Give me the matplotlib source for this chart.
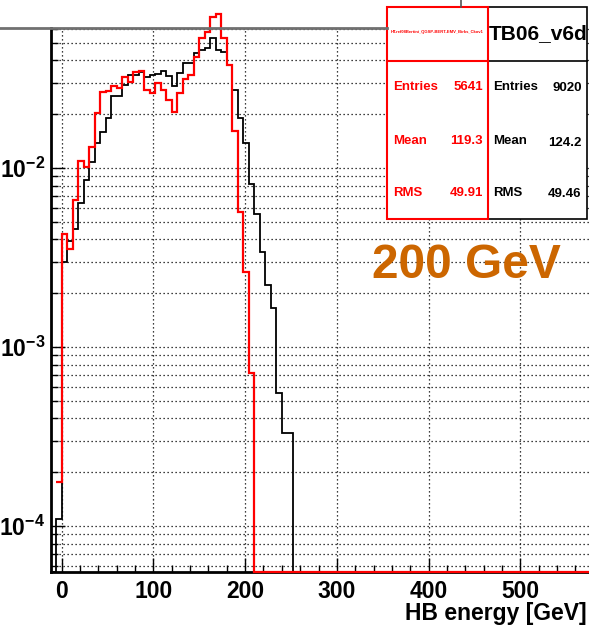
import numpy as np
import matplotlib
matplotlib.use('Agg')
import matplotlib.pyplot as plt
from matplotlib.ticker import FixedLocator, NullFormatter, LogLocator, MultipleLocator
from matplotlib.lines import Line2D
from matplotlib.patches import Rectangle

plt.rcParams['font.family'] = ['Liberation Sans', 'DejaVu Sans']
plt.rcParams['font.weight'] = 'bold'
plt.rcParams['mathtext.fontset'] = 'custom'
plt.rcParams['mathtext.rm'] = 'Liberation Sans:bold'
plt.rcParams['mathtext.bf'] = 'Liberation Sans:bold'
plt.rcParams['mathtext.it'] = 'Liberation Sans:bold:italic'

# ---------------- data ----------------
BIN_WIDTH = 6
FIRST_EDGE = -6          # lower edge of the first listed bin (both series)
BLACK_RANGE = (-12, 600)
RED_RANGE = (-6, 600)

# TB06_v6d (black), normalised to entries
black_values = [1.1e-4, 3.0e-3, 3.93e-3, 4.58e-3, 6.40e-3, 8.60e-3, 0.0109, 0.0138,
                0.0160, 0.0190, 0.0254, 0.0254, 0.0292, 0.0332, 0.0332, 0.0347,
                0.0325, 0.0330, 0.0336, 0.0351, 0.0329, 0.0288, 0.0339, 0.0386,
                0.0389, 0.0439, 0.0458, 0.0468, 0.0532, 0.0458, 0.0446, 0.0378,
                0.0274, 0.0191, 0.0138, 8.17e-3, 5.55e-3, 3.42e-3, 2.22e-3,
                1.665e-3, 5.58e-4, 3.33e-4, 3.33e-4]

# simulation (red)
red_values = [1.77e-4, 4.28e-3, 3.56e-3, 6.65e-3, 0.0110, 0.0101, 0.0131, 0.0203,
              0.0266, 0.0270, 0.0288, 0.0282, 0.0325, 0.0305, 0.0344, 0.0351,
              0.0274, 0.0263, 0.0299, 0.0273, 0.0241, 0.0207, 0.0263, 0.0315,
              0.0331, 0.0418, 0.0532, 0.0578, 0.0698, 0.0725, 0.0532, 0.0378,
              0.0162, 5.72e-3, 2.64e-3, 7.16e-4]

x_ticks = [0, 100, 200, 300, 400, 500]
y_ticks = [1e-4, 1e-3, 1e-2]
y_tick_labels = [r'$\mathbf{10^{-4}}$', r'$\mathbf{10^{-3}}$', r'$\mathbf{10^{-2}}$']
X_LIM = (-12, 600)
Y_LIM = (5.55e-5, 0.0605)

red_stats = [("Entries", "5641"), ("Mean", "119.3"), ("RMS", "49.91")]
black_stats = [("Entries", "9020"), ("Mean", "124.2"), ("RMS", "49.46")]
red_title = "HT.ref08Bertini_QGSP-BERT-EMV_Birks_Ckov1"
black_title = "TB06_v6d"
energy_label = "200 GeV"
x_label = "HB energy [GeV]"

# ---------------- figure ----------------
W, H = 589, 631
fig = plt.figure(figsize=(W / 100, H / 100), dpi=100)

def fx(px):
    return px / W

def fy(py):
    return 1 - py / H

ax_left, ax_right, ax_top, ax_bottom = 50.7, 612.0, 28.3, 572.0
ax = fig.add_axes([fx(ax_left), fy(ax_bottom), (ax_right - ax_left) / W, (ax_bottom - ax_top) / H])
ax.set_yscale('log')
ax.set_xlim(*X_LIM)
ax.set_ylim(*Y_LIM)


def full(vals, rng):
    edges = np.arange(rng[0], rng[1] + BIN_WIDTH, BIN_WIDTH)
    arr = np.zeros(len(edges) - 1)
    start = (FIRST_EDGE - rng[0]) // BIN_WIDTH
    arr[start:start + len(vals)] = vals
    return np.where(arr > 0, arr, Y_LIM[0]), edges

bv, be = full(black_values, BLACK_RANGE)
rv, re_ = full(red_values, RED_RANGE)
ax.stairs(bv, be, baseline=None, color='black', lw=1.3, clip_on=False, zorder=3)
ax.stairs(rv, re_, baseline=None, color='#ff0000', lw=1.6, clip_on=False, zorder=4)

# grid / ticks
ax.xaxis.set_major_locator(FixedLocator(x_ticks))
ax.xaxis.set_minor_locator(MultipleLocator(20))
ax.yaxis.set_major_locator(FixedLocator(y_ticks))
ax.yaxis.set_minor_locator(LogLocator(base=10, subs=range(2, 10)))
ax.yaxis.set_minor_formatter(NullFormatter())
ax.set_yticklabels(y_tick_labels)
ax.set_xticklabels([str(t) for t in x_ticks], fontweight='bold')
gstyle = dict(color='black', lw=0.9, ls=(0, (1, 2.2)))
ax.grid(True, axis='x', which='major', **gstyle)
ax.grid(True, axis='y', which='both', **gstyle)
ax.set_axisbelow(True)

ax.tick_params(axis='both', which='major', direction='in', length=10, width=1, labelsize=16.5,
               colors='black')
ax.tick_params(axis='both', which='minor', direction='in', length=5, width=1)
ax.tick_params(axis='x', which='major', pad=6)
ax.tick_params(axis='y', which='major', pad=4)
ax.tick_params(top=False, right=False, which='both')
for s in ['top', 'right']:
    ax.spines[s].set_visible(False)
for s in ['left', 'bottom']:
    ax.spines[s].set_linewidth(2)

# top line (frame top / title pad edge)
fig.add_artist(Line2D([0, fx(387)], [fy(28), fy(28)], color='#707070', lw=2))
fig.add_artist(Line2D([fx(461), fx(461)], [fy(0), fy(7)], color='#555555', lw=1.2))

# stats boxes
top_b, div_b, bot_b = 6.7, 60.7, 219.0
fig.add_artist(Rectangle((fx(488.3), fy(bot_b)), (587.3 - 488.3) / W, (bot_b - top_b) / H,
                         transform=fig.transFigure, fc='white', ec='black', lw=1.2))
fig.add_artist(Line2D([fx(488.3), fx(587.3)], [fy(div_b), fy(div_b)], color='black', lw=1.2))
fig.add_artist(Rectangle((fx(386.7), fy(bot_b)), (488.3 - 386.7) / W, (bot_b - 7.3) / H,
                         transform=fig.transFigure, fc='white', ec='#ff0000', lw=1.5))
fig.add_artist(Line2D([fx(386.7), fx(488.3)], [fy(div_b), fy(div_b)], color='#ff0000', lw=1.5))

fig.text(fx(437.5), fy(32.3), red_title, color='#ff0000', fontsize=3.0, fontweight='bold',
         ha='center', va='center')
fig.text(fx(538), fy(33.5), black_title, color='black', fontsize=15, fontweight='bold',
         ha='center', va='center')

rows_y = [86.7, 141.0, 192.7]
for (lab, val), yy in zip(red_stats, rows_y):
    fig.text(fx(392.7), fy(yy), lab, color='#ff0000', fontsize=9.5, fontweight='bold', va='center', ha='left')
    fig.text(fx(482.7), fy(yy), val, color='#ff0000', fontsize=9.5, fontweight='bold', va='center', ha='right')
for (lab, val), yy in zip(black_stats, rows_y):
    fig.text(fx(492.7), fy(yy), lab, color='black', fontsize=9.5, fontweight='bold', va='center', ha='left')
    fig.text(fx(581.7), fy(yy + 1.5), val, color='black', fontsize=9.5, fontweight='bold', va='center', ha='right')

fig.text(fx(372), fy(266), energy_label, color='#cc6600', fontsize=34.5, fontweight='bold',
         ha='left', va='center')
fig.text(fx(587), fy(620), x_label, color='black', fontsize=16.5, fontweight='bold',
         ha='right', va='baseline')

fig.savefig('out.png', dpi=100)
